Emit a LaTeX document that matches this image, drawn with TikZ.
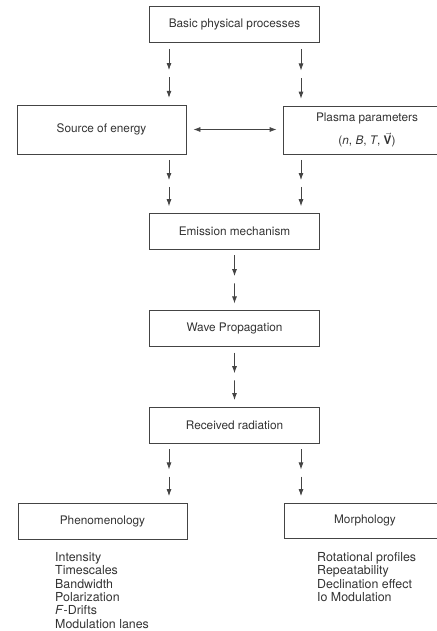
\documentclass[tikz,border=0pt]{standalone}
\usepackage{fontspec}
\setmainfont{TeX Gyre Heros}
\usetikzlibrary{positioning,arrows.meta,calc}
\definecolor{inkgray}{HTML}{333333}
\definecolor{linegray}{HTML}{444444}
\newcommand{\twoarr}[2]{%
  \draw[arr] ($(#1)!0.095!(#2)$) -- ($(#1)!0.44!(#2)$);
  \draw[arr] ($(#1)!0.56!(#2)$) -- ($(#1)!0.89!(#2)$);}
\begin{document}
\begin{tikzpicture}[x=1pt, y=-1pt, every node/.style={font=\fontsize{11.8}{13.4}\selectfont, text=inkgray}, box/.style={draw=linegray, line width=0.8pt, align=center, inner sep=0pt, minimum width=170pt, minimum height=36pt}, side/.style={box, minimum width=169pt, minimum height=49pt}, list/.style={align=left, anchor=north west, inner sep=0pt, font=\fontsize{12.4}{13.4}\selectfont}, arr/.style={-{Latex[length=7pt,width=5pt]}, draw=linegray, line width=0.8pt}]
\useasboundingbox (0,0) rectangle (436,631);
\coordinate (lx) at (169,0);
\coordinate (rx) at (301,0);
\node[box] (basic) at (234.5,24.5) {Basic physical processes};
\node[side] (source) at (101.5,129.5) {Source of energy};
\node[side, minimum width=168pt, minimum height=48pt] (plasma) at (367,130) {Plasma parameters\\[8pt](\textit{n}, \textit{B}, \textit{T}, $\vec{\textbf{V}}$)};
\node[box] (emission) at (234.5,231) {Emission mechanism};
\node[box] (wave) at (234.5,328.5) {Wave Propagation};
\node[box] (received) at (234.5,425) {Received radiation};
\node[box, minimum width=169pt] (phen) at (102.5,521) {Phenomenology};
\node[box, minimum width=162pt, minimum height=35pt] (morph) at (365,520.5) {Morphology};
\node[list] (phenlist) at (55,552) {Intensity\\Timescales\\Bandwidth\\Polarization\\\textit{F}-Drifts\\Modulation lanes};
\node[list] (morphlist) at (317,552) {Rotational profiles\\Repeatability\\Declination effect\\Io Modulation};
% arrow pairs
\twoarr{basic.south -| lx}{source.north -| lx}
\twoarr{basic.south -| rx}{plasma.north -| rx}
\twoarr{source.south -| lx}{emission.north -| lx}
\twoarr{plasma.south -| rx}{emission.north -| rx}
\twoarr{emission.south}{wave.north}
\twoarr{wave.south}{received.north}
\twoarr{received.south -| lx}{phen.north -| lx}
\twoarr{received.south -| rx}{morph.north -| rx}
\draw[arr, {Latex[length=7pt,width=5pt]}-{Latex[length=7pt,width=5pt]}, shorten <=7pt, shorten >=6pt] (source.east) -- (plasma.west |- source.east);
\end{tikzpicture}
\end{document}
